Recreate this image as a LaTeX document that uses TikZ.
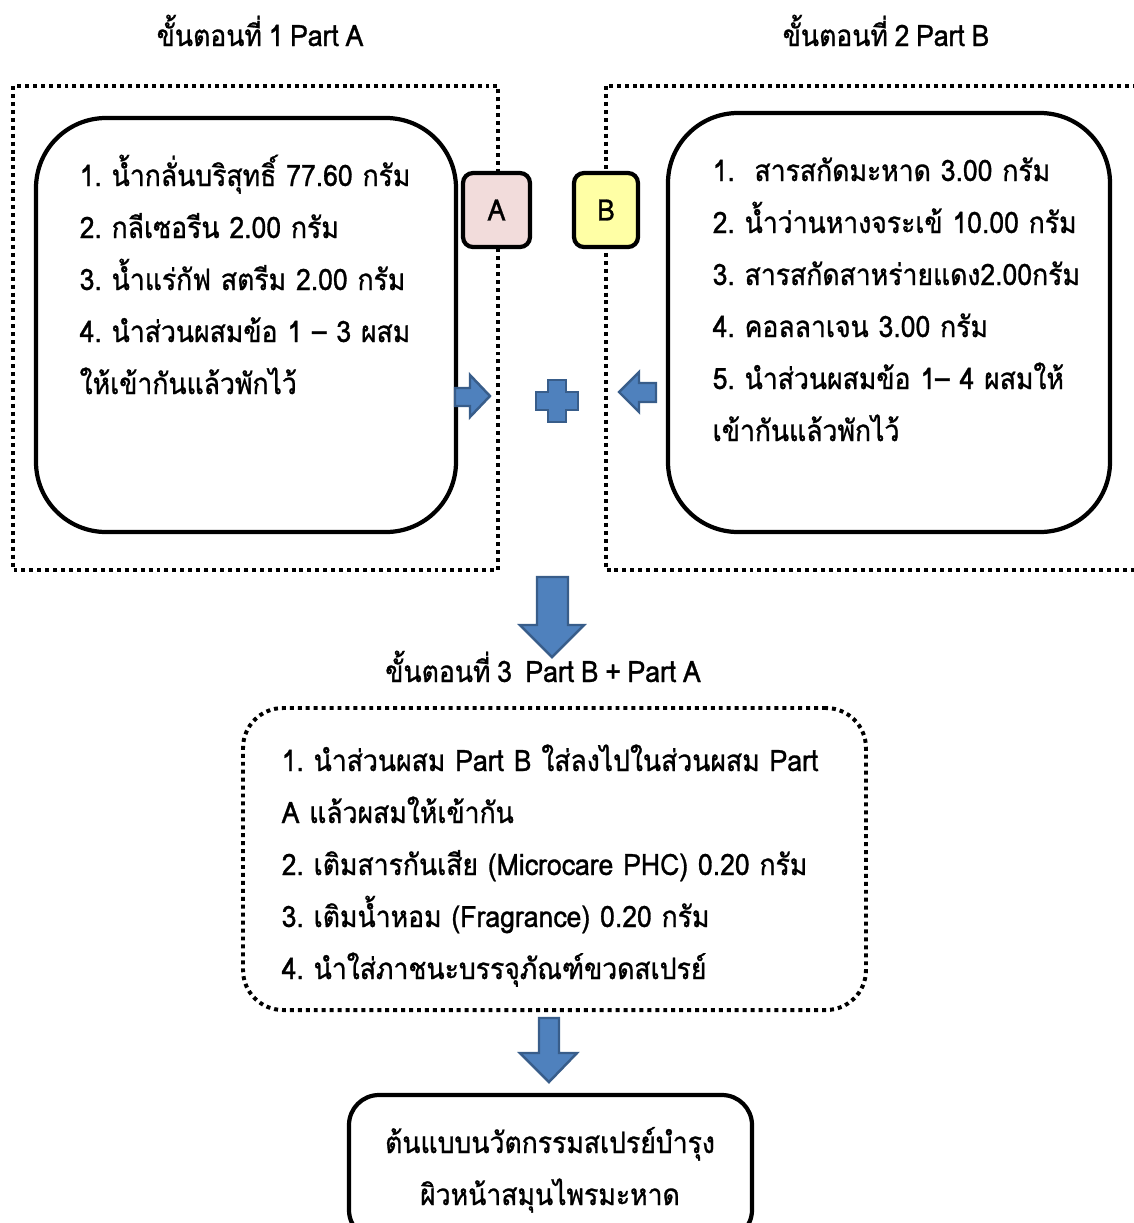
\documentclass[tikz,border=0pt]{standalone}
\usepackage{fontspec}
\setmainfont[Script=Thai, WordSpace=0.75, FakeStretch=0.9, FakeBold=1]{Loma}
\usepackage{tikz}
\usetikzlibrary{positioning}
\frenchspacing

\definecolor{arrowblue}{HTML}{4F81BD}
\definecolor{arrowedge}{HTML}{385D8A}
\definecolor{tagpink}{HTML}{F2DCDB}
\definecolor{tagyellow}{HTML}{FFFFA5}

\tikzset{
	dotframe/.style={line width=1.13pt, dash pattern=on 1.13pt off 1.13pt},
	roundbox/.style={draw, fill=white, line width=1.2pt, rounded corners=0.7cm, inner sep=0pt},
	tagbox/.style={draw, line width=1.2pt, rounded corners=0.1cm, minimum height=0.74cm, inner sep=0pt},
	steplist/.style={anchor=base west, inner sep=0pt, text width=8cm, align=left},
	blockarrow/.style={fill=arrowblue, draw=arrowedge, line width=0.7pt},
}

\begin{document}
\begin{tikzpicture}[font=\fontsize{8.4}{14.8}\selectfont]
		\useasboundingbox (0,0) rectangle (11.33,-12.23);

		% Part A / Part B frames
		\draw[dotframe] (0.13,-0.86) rectangle (4.98,-5.70);
		\draw[dotframe] (6.06,-0.86) rectangle (11.50,-5.70);

		\node[anchor=base] (titleA) at (2.60,-0.46) {ขั้นตอนที่ 1 Part A};
		\node[anchor=base] (titleB) at (8.86,-0.46) {ขั้นตอนที่ 2 Part B};

		\node[roundbox, minimum width=4.20cm, minimum height=4.14cm] (boxA) at (2.46,-3.25) {};
		\node[roundbox, minimum width=4.42cm, minimum height=4.19cm] (boxB) at (8.89,-3.225) {};

		\node[tagbox, fill=tagpink, minimum width=0.67cm] (tagA) at (4.965,-2.10) {A};
		\node[tagbox, fill=tagyellow, minimum width=0.64cm] (tagB) at (6.06,-2.10) {B};

		\node[steplist] (listA) at (0.79,-1.86) {1. น้ำกลั่นบริสุทธิ์ 77.60 กรัม\\
			2. กลีเซอรีน 2.00 กรัม\\
			3. น้ำแร่กัฟ สตรีม 2.00 กรัม\\
			4. นำส่วนผสมข้อ 1 – 3 ผสม\\
			ให้เข้ากันแล้วพักไว้};
		\node[steplist] (listB) at (7.12,-1.81) {1.\ \ สารสกัดมะหาด 3.00 กรัม\\
			2. น้ำว่านหางจระเข้ 10.00 กรัม\\
			3. สารสกัดสาหร่ายแดง2.00กรัม\\
			4. คอลลาเจน 3.00 กรัม\\
			5. นำส่วนผสมข้อ 1– 4 ผสมให้\\
			เข้ากันแล้วพักไว้};

		% arrows into the middle
		\draw[blockarrow] (4.55,-3.88) -- (4.70,-3.88) -- (4.70,-3.75) -- (4.90,-3.96)
			-- (4.70,-4.17) -- (4.70,-4.06) -- (4.55,-4.06) -- cycle;
		\draw[blockarrow] (6.56,-3.83) -- (6.39,-3.83) -- (6.39,-3.72) -- (6.19,-3.92)
			-- (6.39,-4.12) -- (6.39,-4.02) -- (6.56,-4.02) -- cycle;
		% plus
		\draw[blockarrow] (5.48,-3.80) -- (5.66,-3.80) -- (5.66,-3.92) -- (5.78,-3.92)
			-- (5.78,-4.10) -- (5.66,-4.10) -- (5.66,-4.22) -- (5.48,-4.22)
			-- (5.48,-4.10) -- (5.36,-4.10) -- (5.36,-3.92) -- (5.48,-3.92) -- cycle;

		% down to step 3
		\draw[blockarrow] (5.37,-5.77) -- (5.68,-5.77) -- (5.68,-6.25) -- (5.84,-6.25)
			-- (5.52,-6.57) -- (5.20,-6.25) -- (5.37,-6.25) -- cycle;

		\node[anchor=base] (titleC) at (5.43,-6.82) {ขั้นตอนที่ 3\ \ Part B + Part A};

		\node[draw, dotframe, rounded corners=0.4cm, minimum width=6.23cm, minimum height=3.02cm] (boxC) at (5.545,-8.59) {};
		\node[steplist] (listC) at (2.81,-7.71) {1. นำส่วนผสม Part B ใส่ลงไปในส่วนผสม Part\\
			A แล้วผสมให้เข้ากัน\\
			2. เติมสารกันเสีย (Microcare PHC) 0.20 กรัม\\
			3. เติมน้ำหอม (Fragrance) 0.20 กรัม\\
			4. นำใส่ภาชนะบรรจุภัณฑ์ขวดสเปรย์};

		% down to product
		\draw[blockarrow] (5.39,-10.18) -- (5.59,-10.18) -- (5.59,-10.53) -- (5.77,-10.53)
			-- (5.49,-10.82) -- (5.20,-10.53) -- (5.39,-10.53) -- cycle;

		\node[roundbox, rounded corners=0.3cm, minimum width=4.03cm, minimum height=1.45cm] (product) at (5.505,-11.675) {};
		\node[anchor=base, text width=4cm, align=center, inner sep=0pt] (productText) at (5.50,-11.53) {ต้นแบบนวัตกรรมสเปรย์บำรุง\\ผิวหน้าสมุนไพรมะหาด};
	\end{tikzpicture}
\end{document}
